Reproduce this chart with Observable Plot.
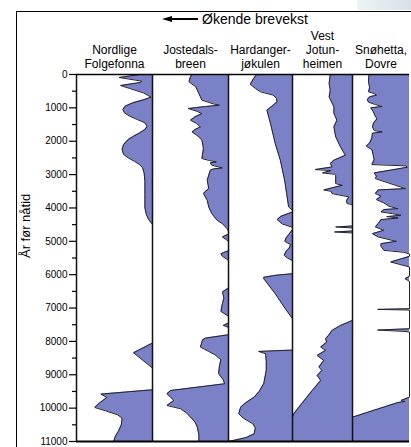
<!DOCTYPE html>
<html>
<head>
<meta charset="utf-8">
<script src="https://cdn.jsdelivr.net/npm/d3@7"></script>
<script src="https://cdn.jsdelivr.net/npm/@observablehq/plot@0.6"></script>
<style>
  html, body { margin: 0; padding: 0; background: #fff; }
  #wrap { position: relative; width: 411px; height: 447px; overflow: hidden; font-family: "Liberation Sans", Arial, sans-serif; }
  #wrap svg { position: absolute; left: 0; top: 0; }
  .border { position: absolute; left: 16px; top: 11px; right: -4px; bottom: -4px; border-left: 1.5px solid #000; border-top: 1.5px solid #000; z-index: 2; pointer-events: none; }
  .corner { position: absolute; left: 357px; top: 0; width: 54px; height: 10px; background: linear-gradient(90deg, #eef3f4, #d6e2e6); z-index: 1; }
  .header { position: absolute; left: 0; top: 12px; width: 411px; height: 14px; z-index: 3; }
  .header .txt { position: absolute; left: 202px; top: 0; font-size: 14px; line-height: 14px; color: #000; white-space: nowrap; }
  .header .shaft { position: absolute; left: 170px; top: 6px; width: 28px; height: 2px; background: #000; }
  .header .head { position: absolute; left: 162px; top: 3.5px; width: 0; height: 0; border-top: 3.5px solid transparent; border-bottom: 3.5px solid transparent; border-right: 10px solid #000; }
</style>
</head>
<body>
<div id="wrap">
  <div class="corner"></div>
  <div class="border"></div>
  <div class="header"><div class="head"></div><div class="shaft"></div><div class="txt">Økende brevekst</div></div>
</div>
<script>
// Glacier names (column titles)
const glacierNames = ["Nordlige\nFolgefonna", "Jostedals-\nbreen", "Hardanger-\njøkulen", "Vest\nJotun-\nheimen", "Snøhetta,\nDovre"];

// [years before present, relative glacier extent (0 = none, 1 = full column)]
const folgefonna = [
  [0,0.16],[90,0.44],[200,0.14],[240,0.16],[330,0.42],[420,0.3],[550,0.12],[680,0.02],[760,0.12],
  [850,0.26],[950,0.36],[1050,0.39],[1150,0.37],[1250,0.3],[1350,0.2],[1450,0.1],[1550,0.07],
  [1650,0.1],[1750,0.17],[1850,0.25],[1950,0.32],[2100,0.38],[2250,0.40],[2400,0.38],[2500,0.32],
  [2600,0.24],[2700,0.17],[2800,0.13],[2950,0.11],[3200,0.10],[3600,0.10],[4000,0.10],[4200,0.08],
  [4350,0.05],[4500,0],[8050,0],[8340,0.25],[8800,0],[9450,0],[9580,0.68],[9680,0.6],[9850,0.7],
  [9980,0.76],[10080,0.62],[10200,0.46],[10300,0.4],[10500,0.41],[10700,0.45],[10850,0.49],[11000,0.51]
];
const jostedalsbreen = [
  [0,0.48],[70,0.5],[220,0.52],[370,0.43],[570,0.39],[770,0.35],[880,0.2],[920,0.12],[960,0.3],
  [1020,0.53],[1100,0.42],[1170,0.35],[1270,0.44],[1370,0.5],[1470,0.42],[1570,0.37],[1650,0.44],
  [1720,0.48],[1850,0.4],[1970,0.35],[2220,0.33],[2520,0.35],[2580,0.25],[2620,0.16],[2650,0.24],
  [2720,0.22],[2800,0.08],[2830,0.2],[2870,0.24],[3170,0.28],[3420,0.26],[3500,0.3],[3570,0.33],
  [3770,0.28],[3970,0.26],[4170,0.22],[4370,0.15],[4470,0.08],[4620,0.02],[4700,0],
  [4780,0],[4870,0.08],[5000,0],[5280,0],[5370,0.1],[5450,0.08],[5570,0],
  [6400,0],[6520,0.08],[6700,0.06],[6870,0.08],[7100,0.1],[7250,0],[7450,0],[7520,0.07],[7580,0],
  [7800,0],[7900,0.3],[7950,0.34],[8100,0.36],[8170,0.37],[8230,0.32],[8300,0.26],[8400,0.18],
  [8550,0.1],[8750,0.12],[8970,0.13],[9150,0.07],[9270,0.05],[9470,0.76],[9570,0.81],[9680,0.76],
  [9770,0.72],[9920,0.81],[10020,0.63],[10150,0.55],[10270,0.5],[10420,0.44],[10570,0.41],
  [10800,0.39],[11000,0.39]
];
const hardangerjokulen = [
  [0,0.56],[100,0.6],[290,0.66],[420,0.58],[520,0.5],[620,0.3],[720,0.25],[820,0.24],[950,0.32],
  [1070,0.4],[1500,0.34],[2070,0.27],[2570,0.19],[3200,0.12],[3600,0.09],[3970,0.06],[4070,0],
  [4120,0],[4250,0.18],[4350,0.24],[4480,0.16],[4580,0],[4650,0],[4800,0.06],[4900,0.1],[5000,0.12],
  [5100,0.03],[5200,0.05],[5300,0.1],[5420,0.13],[5500,0.08],[5580,0],
  [5970,0],[6020,0.27],[6080,0.45],[6120,0.45],[6570,0.27],[7000,0.12],[7320,0],
  [8260,0],[8300,0.53],[8370,0.42],[8600,0.41],[8870,0.41],[9270,0.45],[9500,0.52],[9670,0.6],
  [9850,0.74],[9970,0.81],[10170,0.84],[10300,0.77],[10470,0.62],[10600,0.58],[10770,0.6],
  [10880,0.72],[10950,0.88],[11000,1]
];
const vestJotunheimen = [
  [0,0.37],[270,0.39],[470,0.37],[670,0.39],[970,0.31],[1170,0.31],[1370,0.26],[1570,0.31],
  [1870,0.28],[2170,0.2],[2420,0.12],[2570,0.31],[2670,0.37],[2770,0.34],[2850,0.62],[2880,0.36],
  [2950,0.5],[2990,0.3],[3020,0.28],[3270,0.28],[3320,0.17],[3460,0.48],[3500,0.36],[3570,0.34],
  [3670,0.06],[3780,0.1],[3870,0.09],[3900,0],[4540,0],[4570,0.28],[4600,0],[4690,0],[4720,0.3],[4750,0],
  [7370,0],[7520,0.2],[7670,0.34],[7820,0.4],[7920,0.45],[8020,0.43],[8170,0.53],[8270,0.45],
  [8420,0.59],[8570,0.48],[8770,0.56],[8870,0.51],[9020,0.59],[9170,0.53],[9470,0.67],[9670,0.76],
  [9900,0.86],[10170,0.98],[10270,1],[11000,1]
];
const snohettaDovre = [
  [0,0.71],[200,0.72],[400,0.70],[520,0.72],[571,0.62],[620,0.58],[670,0.70],[750,0.74],[830,0.72],
  [900,0.6],[960,0.48],[1000,0.68],[1100,0.64],[1250,0.60],[1330,0.57],[1450,0.63],[1570,0.65],
  [1680,0.62],[1720,0.48],[1760,0.65],[1900,0.66],[2050,0.70],[2150,0.76],[2250,0.66],[2400,0.64],
  [2550,0.62],[2700,0.66],[2740,0.06],[2780,0.04],[2950,0.62],[3050,0.58],[3120,0.6],[3420,0.07],
  [3460,0.55],[3570,0.6],[3650,0.5],[3750,0.58],[3850,0.45],[3950,0.36],[4020,0.2],[4050,0.45],
  [4120,0.5],[4170,0.3],[4220,0.15],[4260,0.4],[4300,0.2],[4350,0.5],[4470,0.55],[4570,0.6],
  [4670,0.45],[4770,0.65],[4870,0.55],[5000,0.23],[5070,0.5],[5150,0.5],[5270,0.45],[5330,0.1],[5380,0],
  [5450,0],[5620,0.33],[5770,0],[6050,0],[6120,0.08],[6200,0],[7020,0],[7040,0.56],[7060,0],
  [7620,0],[7660,0.56],[7700,0.1],[7720,0],[9670,0],[9770,0.15],[9800,0.08],[9830,0.2],[10270,1],[11000,1]
];

const series = [folgefonna, jostedalsbreen, hardangerjokulen, vestJotunheimen, snohettaDovre];

// Axis ticks
const majorTicks = [0,1000,2000,3000,4000,5000,6000,7000,8000,9000,10000,11000];
const minorTicks = [500,1500,2500,3500,4500,5500,6500,7500,8500,9500,10500];

// Layout: column widths in x-scale units (pixels)
const panelWidths = [76, 76, 64, 60, 57];
const rights = d3.cumsum(panelWidths);
const lefts = rights.map((r, i) => r - panelWidths[i]);
const total = rights[rights.length - 1];

const rows = series.flatMap((s, i) => s.map(([year, v]) => ({
  panel: i, year, x: rights[i] - v * panelWidths[i], xr: rights[i]
})));

const chart = Plot.plot({
  width: 411, height: 447,
  marginTop: 74, marginBottom: 6, marginLeft: 76, marginRight: 2,
  x: {domain: [0, total], axis: null},
  y: {domain: [0, 11000], reverse: true, axis: null},
  style: {fontFamily: "'Liberation Sans', Arial, sans-serif", background: "transparent", color: "#000", overflow: "visible"},
  marks: [
    Plot.areaX(rows, {y: "year", x1: "x", x2: "xr", z: "panel", fill: "#7b81c6", curve: "linear"}),
    Plot.lineX(rows, {x: "x", y: "year", z: "panel", stroke: "#22222e", strokeWidth: 1, curve: "linear"}),
    Plot.ruleX(lefts, {stroke: "#111", strokeWidth: 1.5}),
    Plot.ruleY([0], {stroke: "#000", strokeWidth: 1.5}),
    Plot.ruleY([11000], {stroke: "#000", strokeWidth: 2.2}),
    Plot.axisY(majorTicks, {anchor: "left", tickSize: 7, tickPadding: 2, tickFormat: d3.format("d"), fontSize: 10, label: null, strokeWidth: 1.2}),
    Plot.axisY(minorTicks, {anchor: "left", tickSize: 4, tickFormat: () => null, label: null, strokeWidth: 1.2}),
    Plot.text(["År før nåtid"], {frameAnchor: "left", rotate: -90, dx: -51, fontSize: 13}),
    Plot.text(glacierNames, {x: (d, i) => rights[i] - panelWidths[i] / 2, text: d => d, frameAnchor: "top", dy: -7, lineAnchor: "bottom", fontSize: 12, lineHeight: 1.15})
  ]
});
document.getElementById("wrap").prepend(chart);
</script>
</body>
</html>
